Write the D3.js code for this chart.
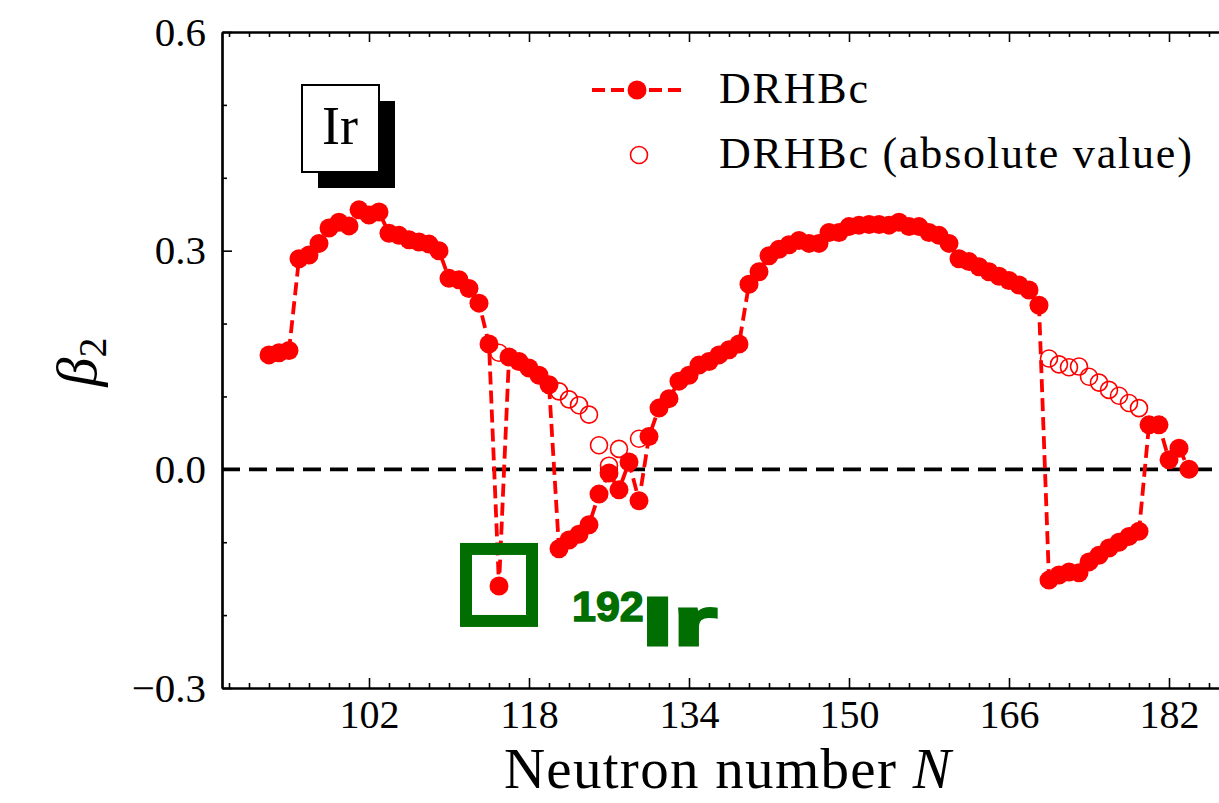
<!DOCTYPE html>
<html>
<head>
<meta charset="utf-8">
<script src="https://cdn.jsdelivr.net/npm/d3@7"></script>
<style>
  html, body { margin: 0; padding: 0; background: #fff; overflow: hidden; }
</style>
</head>
<body>
<svg id="chart" width="1219" height="803"></svg>
<script>
// Quadrupole deformation beta2 of Ir isotopes from DRHBc, by neutron number N
const neutrons = [
  92, 93, 94, 95, 96, 97, 98, 99, 100, 101, 102, 103, 104, 105, 106, 107, 108, 109, 110,
  111, 112, 113, 114, 115, 116, 117, 118, 119, 120, 121, 122, 123, 124, 125, 126, 127, 128,
  129, 130, 131, 132, 133, 134, 135, 136, 137, 138, 139, 140, 141, 142, 143, 144, 145, 146,
  147, 148, 149, 150, 151, 152, 153, 154, 155, 156, 157, 158, 159, 160, 161, 162, 163, 164,
  165, 166, 167, 168, 169, 170, 171, 172, 173, 174, 175, 176, 177, 178, 179, 180, 181, 182,
  183, 184
];
const beta2 = [
  0.157, 0.160, 0.163, 0.289, 0.294, 0.310, 0.331, 0.339, 0.334, 0.356, 0.349, 0.353, 0.324,
  0.321, 0.315, 0.312, 0.309, 0.300, 0.262, 0.260, 0.248, 0.228, 0.172, -0.160, 0.154, 0.148,
  0.139, 0.129, 0.116, -0.109, -0.097, -0.089, -0.076, -0.034, -0.005, -0.028, 0.010, -0.043,
  0.045, 0.084, 0.097, 0.121, 0.129, 0.143, 0.148, 0.157, 0.164, 0.172, 0.254, 0.271, 0.293,
  0.302, 0.308, 0.314, 0.310, 0.310, 0.325, 0.325, 0.333, 0.335, 0.336, 0.336, 0.335, 0.339,
  0.333, 0.333, 0.325, 0.321, 0.310, 0.289, 0.285, 0.278, 0.271, 0.265, 0.259, 0.253, 0.246,
  0.225, -0.152, -0.145, -0.141, -0.142, -0.127, -0.118, -0.108, -0.100, -0.092, -0.085,
  0.061, 0.061, 0.013, 0.029, 0.000
];
// |beta2| for the isotopes with oblate (negative) deformation
const absN = [115, 121, 122, 123, 124, 125, 126, 127, 129,
              170, 171, 172, 173, 174, 175, 176, 177, 178, 179];
const absBeta2 = [0.160, 0.107, 0.096, 0.088, 0.075, 0.033, 0.005, 0.028, 0.042,
                  0.152, 0.144, 0.140, 0.141, 0.127, 0.119, 0.109, 0.101, 0.091, 0.084];

const xMajorTicks = [102, 118, 134, 150, 166, 182];
const yMajorTicks = [-0.3, 0.0, 0.3, 0.6];
const yTickLabels = ["\u22120.3", "0.0", "0.3", "0.6"];
const legendLabels = ["DRHBc", "DRHBc (absolute value)"];
const element = "Ir";
const highlightN = 115;
const highlightMass = "192";

const svg = d3.select("#chart");
const serif = "'Liberation Serif', 'Times New Roman', serif";
const plotLeft = 222, plotRight = 1239, plotTop = 32, plotBottom = 688;

const x = d3.scaleLinear().domain([87.3, 189]).range([plotLeft, plotRight]);
const y = d3.scaleLinear().domain([-0.3, 0.6]).range([plotBottom, plotTop]);

const red = "#ff0000";
const green = "#006e00";

// zero reference line
svg.append("line")
  .attr("x1", plotLeft).attr("x2", plotRight)
  .attr("y1", y(0)).attr("y2", y(0))
  .attr("stroke", "#000").attr("stroke-width", 3.8)
  .attr("stroke-dasharray", "18,9");

// axes with inward ticks
const minorX = d3.range(88, 189, 2).filter(v => !xMajorTicks.includes(v));
const minorY = d3.range(-0.3, 0.61, 0.1).map(v => +v.toFixed(1)).filter(v => !yMajorTicks.includes(v));

function drawAxis(axisGen, transform) {
  const g = svg.append("g").attr("transform", transform).call(axisGen);
  g.select(".domain").attr("stroke", "#000").attr("stroke-width", 2.2);
  g.selectAll(".tick line").attr("stroke", "#000").attr("stroke-width", 1.6);
  return g;
}

// bottom
const gxb = drawAxis(d3.axisBottom(x).tickValues(xMajorTicks).tickSizeInner(-10).tickSizeOuter(0).tickPadding(12)
  .tickFormat(d3.format("d")), `translate(0,${plotBottom})`);
gxb.selectAll(".tick text").attr("font-size", 40).attr("fill", "#000").attr("font-family", serif);
drawAxis(d3.axisBottom(x).tickValues(minorX).tickSizeInner(-5).tickSizeOuter(0).tickFormat(""),
  `translate(0,${plotBottom})`);
// top
drawAxis(d3.axisTop(x).tickValues(xMajorTicks).tickSizeInner(-10).tickSizeOuter(0).tickFormat(""),
  `translate(0,${plotTop})`);
drawAxis(d3.axisTop(x).tickValues(minorX).tickSizeInner(-5).tickSizeOuter(0).tickFormat(""),
  `translate(0,${plotTop})`);
// left
const gyl = drawAxis(d3.axisLeft(y).tickValues(yMajorTicks).tickSizeInner(-10).tickSizeOuter(0).tickPadding(16)
  .tickFormat((d, i) => yTickLabels[i]), `translate(${plotLeft},0)`);
gyl.selectAll(".tick text").attr("font-size", 41).attr("fill", "#000").attr("font-family", serif);
drawAxis(d3.axisLeft(y).tickValues(minorY).tickSizeInner(-5).tickSizeOuter(0).tickFormat(""),
  `translate(${plotLeft},0)`);

// axis titles
svg.append("text")
  .attr("x", 728).attr("y", 788)
  .attr("text-anchor", "middle").attr("font-size", 57).attr("letter-spacing", 1.3)
  .attr("font-family", serif)
  .html('Neutron number <tspan font-style="italic">N</tspan>');

svg.append("text")
  .attr("transform", "translate(96,362) rotate(-90)")
  .attr("text-anchor", "middle").attr("font-size", 58)
  .attr("font-family", serif)
  .html('<tspan font-style="italic">\u03b2</tspan><tspan font-size="40" dy="10">2</tspan>');

// DRHBc series
const pts = neutrons.map((n, i) => ({ n, b: beta2[i] }));
const line = d3.line().x(d => x(d.n)).y(d => y(d.b));

svg.append("path")
  .datum(pts)
  .attr("d", line)
  .attr("fill", "none")
  .attr("stroke", red).attr("stroke-width", 3.8)
  .attr("stroke-dasharray", "13,6");

// absolute values (open circles)
svg.append("g").selectAll("circle")
  .data(absN.map((n, i) => ({ n, b: absBeta2[i] })))
  .join("circle")
  .attr("cx", d => x(d.n)).attr("cy", d => y(d.b)).attr("r", 8.5)
  .attr("fill", "none").attr("stroke", red).attr("stroke-width", 1.6);

svg.append("g").selectAll("circle")
  .data(pts)
  .join("circle")
  .attr("cx", d => x(d.n)).attr("cy", d => y(d.b)).attr("r", 9.5)
  .attr("fill", red);

// highlighted isotope
const hx = x(highlightN), hy = y(beta2[neutrons.indexOf(highlightN)]);
svg.append("rect")
  .attr("x", hx - 33).attr("y", hy - 37)
  .attr("width", 66).attr("height", 72)
  .attr("fill", "none").attr("stroke", green).attr("stroke-width", 12);

svg.append("text")
  .attr("x", hx + 73).attr("y", hy + 35)
  .attr("font-family", "'Liberation Sans', Arial, sans-serif")
  .attr("font-weight", "bold").attr("font-size", 43)
  .attr("fill", green).attr("stroke", green).attr("stroke-width", 1.5)
  .text(highlightMass);
svg.append("text")
  .attr("transform", `translate(${hx + 143},${hy + 59}) scale(1.65,1)`)
  .attr("font-family", "'Liberation Sans', Arial, sans-serif")
  .attr("font-weight", "bold").attr("font-size", 68)
  .attr("fill", green).attr("stroke", green).attr("stroke-width", 3)
  .text(element);

// element box with shadow
svg.append("rect").attr("x", 318).attr("y", 101).attr("width", 77).attr("height", 87).attr("fill", "#000");
svg.append("rect").attr("x", 302).attr("y", 85).attr("width", 77).attr("height", 87)
  .attr("fill", "#fff").attr("stroke", "#000").attr("stroke-width", 2);
svg.append("text").attr("x", 340).attr("y", 144).attr("text-anchor", "middle")
  .attr("font-size", 54).attr("font-family", serif).text(element);

// legend
const lg = svg.append("g");
lg.append("line").attr("x1", 592).attr("x2", 682).attr("y1", 90).attr("y2", 90)
  .attr("stroke", red).attr("stroke-width", 3.8).attr("stroke-dasharray", "13,6");
lg.append("circle").attr("cx", 637).attr("cy", 90).attr("r", 9.5).attr("fill", red);
lg.append("circle").attr("cx", 639).attr("cy", 155).attr("r", 8.5)
  .attr("fill", "none").attr("stroke", red).attr("stroke-width", 1.6);
lg.selectAll("text.lab").data(legendLabels).join("text")
  .attr("class", "lab")
  .attr("x", 719).attr("y", (d, i) => 103 + i * 65)
  .attr("font-size", 44).attr("letter-spacing", 1.8).attr("font-family", serif)
  .text(d => d);
</script>
</body>
</html>
